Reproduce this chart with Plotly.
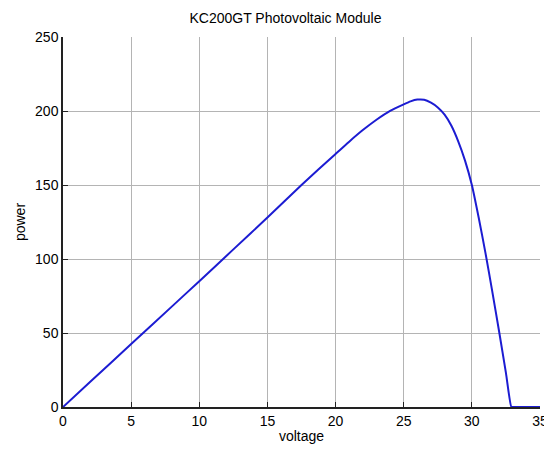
import plotly.graph_objects as go

voltage = [0, 2, 5, 8, 10, 12.5, 15, 17.5, 20, 21, 22, 23, 24, 25, 25.5, 26, 26.5, 27,
           27.5, 28, 28.5, 29, 29.5, 30, 30.5, 31, 31.5, 32, 32.5, 32.9, 33, 34, 35]
power = [0, 17, 42.5, 68, 85, 106.5, 128, 150, 171, 179.3, 187.1, 194.1, 200.1, 204.5, 206.5,
         207.7, 207.6, 205.6, 202.4, 197.5, 190, 179.5, 166.5, 150, 128, 104, 78, 51, 23, 0,
         0, 0, 0]

x_ticks = [0, 5, 10, 15, 20, 25, 30, 35]
y_ticks = [0, 50, 100, 150, 200, 250]

font = dict(family="Liberation Sans, Arial, sans-serif", size=14, color="#000000")

fig = go.Figure(go.Scatter(x=voltage, y=power, mode="lines", line_shape="spline",
                           line=dict(color="#1c1cd2", width=2, smoothing=0.6)))

axis_common = dict(showgrid=True, gridcolor="#b4b4b4", gridwidth=1,
                   showline=True, linecolor="#222222", linewidth=1.5,
                   ticks="inside", ticklen=5, tickcolor="#222222", tickwidth=1.3,
                   zeroline=False, tickfont=font, mirror=False, automargin=False)

fig.update_layout(
    width=544, height=441,
    margin=dict(l=55, r=12, t=29, b=42),
    paper_bgcolor="white", plot_bgcolor="white",
    showlegend=False,
    title=dict(text="KC200GT Photovoltaic Module", x=0.51, xanchor="center",
               y=0.977, yanchor="middle", font=font),
    xaxis=dict(range=[0, 35], tickvals=x_ticks,
               title=dict(text="voltage", font=font, standoff=4), **axis_common),
    yaxis=dict(range=[0, 250], tickvals=y_ticks,
               title=dict(text="power", font=font, standoff=6), **axis_common),
)

fig.write_html("out.html")
